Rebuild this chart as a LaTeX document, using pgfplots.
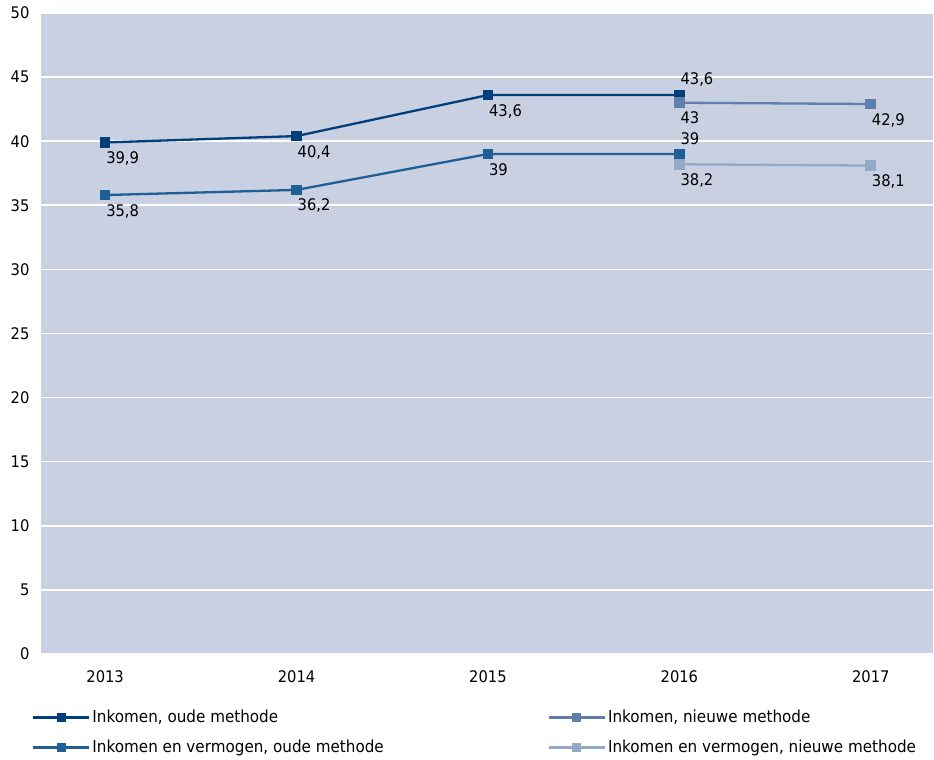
\documentclass[border=0pt]{standalone}
\usepackage{pgfplots}
\pgfplotsset{compat=1.18}
\usepackage{fontspec}
\setmainfont{DejaVu Sans}[FakeStretch=0.92]
\definecolor{bgc}{HTML}{C9D0E2}
\definecolor{ca}{HTML}{003F7A}
\definecolor{cb}{HTML}{1F5F96}
\definecolor{cc}{HTML}{5F80AB}
\definecolor{cd}{HTML}{93A9C8}
\begin{document}
\fontsize{16pt}{19pt}\selectfont
\begin{tikzpicture}
\begin{axis}[
  name=ax, at={(0,0)}, anchor=south west,
  scale only axis, width=892pt, height=641pt,
  xmin=2012.665, xmax=2017.325, ymin=0, ymax=50,
  xtick={2013,2014,2015,2016,2017},
  ytick={0,5,...,50},
  axis background/.style={fill=bgc},
  axis line style={draw=none},
  major tick length=0pt,
  ymajorgrids, grid style={white, line width=1.6pt},
  /pgf/number format/assume math mode=true,
  /pgf/number format/use comma,
  /pgf/number format/1000 sep={},
  xticklabel style={yshift=-11pt},
  yticklabel style={xshift=-6pt},
  tick label style={font=\fontsize{16pt}{19pt}\selectfont},
  legend columns=2,
  legend cell align=left,
  legend style={draw=none, fill=none, at={(-9pt,-78.5pt)}, anchor=west,
    font=\fontsize{16.5pt}{19pt}\selectfont,
    row sep=11pt, /tikz/column 2/.style={column sep=162pt},
    inner sep=0pt},
  legend image code/.code={
    \draw[mark repeat=2,mark phase=2, mark size=3.4pt] plot coordinates {(0pt,0pt)(28pt,0pt)(56pt,0pt)};},
  every axis plot/.append style={line width=2.3pt, mark=square*, mark size=4.2pt, mark options={solid}},
  clip=false,
]
\addplot[color=ca] coordinates {(2013,39.9)(2014,40.4)(2015,43.6)(2016,43.6)};
\addlegendentry{Inkomen, oude methode}
\addplot[color=cc] coordinates {(2016,43)(2017,42.9)};
\addlegendentry{Inkomen, nieuwe methode}
\addplot[color=cb] coordinates {(2013,35.8)(2014,36.2)(2015,39)(2016,39)};
\addlegendentry{Inkomen en vermogen, oude methode}
\addplot[color=cd] coordinates {(2016,38.2)(2017,38.1)};
\addlegendentry{Inkomen en vermogen, nieuwe methode}
% labels below
\addplot[draw=none, mark=none, forget plot, nodes near coords,
  every node near coord/.append style={anchor=north west, inner sep=0pt, xshift=0pt, yshift=-8pt, text=black, font=\fontsize{16pt}{19pt}\selectfont}]
  coordinates {(2013,39.9)(2014,40.4)(2015,43.6)(2016,43)(2017,42.9)(2013,35.8)(2014,36.2)(2015,39)(2016,38.2)(2017,38.1)};
% labels above
\addplot[draw=none, mark=none, forget plot, nodes near coords,
  every node near coord/.append style={anchor=south west, inner sep=0pt, xshift=0pt, yshift=8pt, text=black, font=\fontsize{16pt}{19pt}\selectfont}]
  coordinates {(2016,43.6)(2016,39)};
\end{axis}
\path[use as bounding box] (-41pt,-106pt) rectangle (893pt,654pt);
\end{tikzpicture}
\end{document}
